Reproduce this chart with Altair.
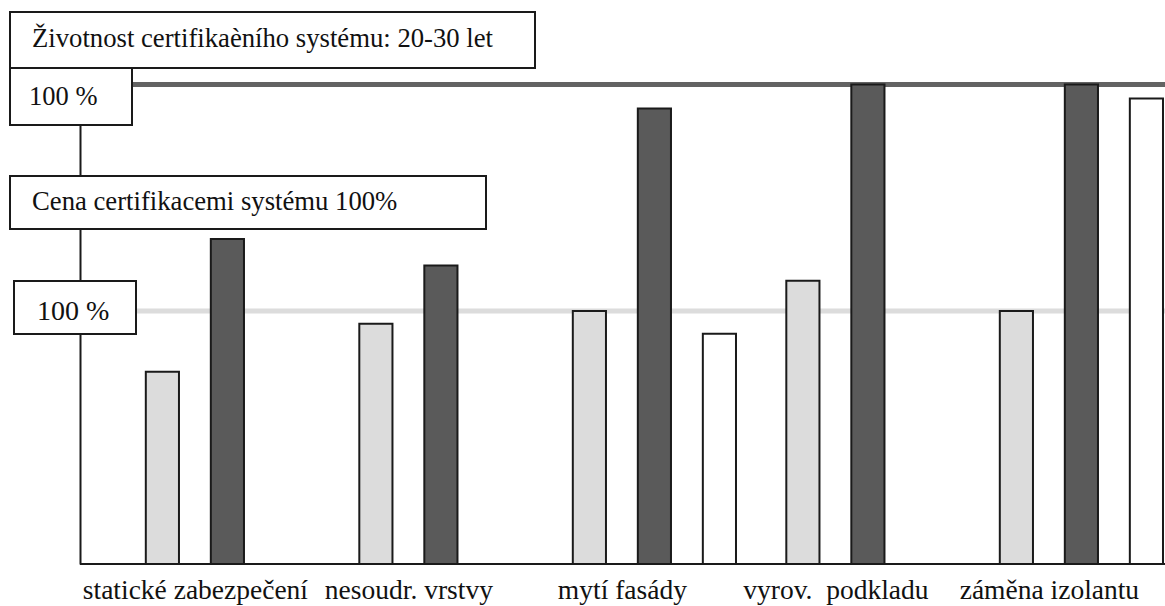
import altair as alt
import pandas as pd

# --- data -------------------------------------------------------------
categories = [
    "statické zabezpečení",
    "nesoudr. vrstvy",
    "mytí fasády",
    "vyrov.\u00a0 podkladu",
    "záměna izolantu",
]
series_names = ["svetla", "tmava", "bila"]
light_values = [76, 95, 100, 112, 100]
dark_values = [128.5, 118, 180, 189.5, 189.5]
white_values = [None, None, 91, None, 184]

cost_level = 100        # "Cena certifikacemi systému 100%"
lifetime_level = 189.5  # "Životnost certifikaèního systému: 20-30 let"

title_lifetime = "Životnost certifikaèního systému: 20-30 let"
title_cost = "Cena certifikacemi systému 100%"
level_label = "100 %"

# --- long table for the bars ------------------------------------------
rows = []
for name, values in zip(series_names, [light_values, dark_values, white_values]):
    for cat, v in zip(categories, values):
        if v is not None:
            rows.append({"kategorie": cat, "rada": name, "hodnota": v})
bars_df = pd.DataFrame(rows)

FONT = "Liberation Serif"
INK = "#1a1a1a"

y_scale = alt.Scale(domain=[0, 200], nice=False, zero=True)
x_scale = alt.Scale(domain=categories, range=[40.65, 1108.15],
                    paddingInner=0, paddingOuter=0)

bars = alt.Chart(bars_df).mark_bar(stroke=INK, strokeWidth=2).encode(
    x=alt.X("kategorie:N", sort=categories, scale=x_scale,
            axis=alt.Axis(title=None, ticks=False, domain=False, grid=False,
                          labelFont=FONT, labelFontSize=27.5, labelColor="#111",
                          labelAngle=0, labelPadding=34, labelLimit=400,
                          labelBaseline="alphabetic", labelOffset=-32,
                          labelOverlap=False, labelBound=False)),
    xOffset=alt.XOffset("rada:N", sort=series_names,
                        scale=alt.Scale(domain=series_names,
                                        paddingInner=0.49, paddingOuter=0.387)),
    y=alt.Y("hodnota:Q", scale=y_scale,
            axis=alt.Axis(title=None, labels=False, ticks=False, grid=False,
                          domainColor=INK, domainWidth=2)),
    color=alt.Color("rada:N", legend=None,
                    scale=alt.Scale(domain=series_names,
                                    range=["#dcdcdc", "#5a5a5a", "#ffffff"])),
)

levels_df = pd.DataFrame({"uroven": [cost_level, lifetime_level]})

cost_rule = alt.Chart(levels_df).transform_filter(
    alt.datum.uroven == cost_level
).mark_rule(color="#dcdcdc", strokeWidth=5).encode(
    y=alt.Y("uroven:Q", scale=y_scale)
)

lifetime_rule = alt.Chart(levels_df).transform_filter(
    alt.datum.uroven == lifetime_level
).mark_rule(color="#636363", strokeWidth=5).encode(
    y=alt.Y("uroven:Q", scale=y_scale)
)

baseline = alt.Chart(pd.DataFrame({"nula": [0]})).mark_rule(
    color=INK, strokeWidth=2
).encode(y=alt.Y("nula:Q", scale=y_scale))


def label_box(text, x0, x1, y0, y1, tx, ty, size):
    """White framed box with a single line of text (pixel layout)."""
    src = pd.DataFrame({"t": [text]})
    frame = alt.Chart(src).mark_rect(
        fill="white", stroke=INK, strokeWidth=2
    ).encode(
        x=alt.value(x0), x2=alt.value(x1), y=alt.value(y0), y2=alt.value(y1)
    )
    words = alt.Chart(src).mark_text(
        align="left", baseline="alphabetic", font=FONT, fontSize=size,
        color="#111"
    ).encode(x=alt.value(tx), y=alt.value(ty), text="t:N")
    return [frame, words]


boxes = []
boxes += label_box(title_lifetime, -70, 455, -46, 10, -48, -11, 26.7)
boxes += label_box(level_label, -70, 52, 10, 67, -51, 47, 26.5)
boxes += label_box(title_cost, -70, 406, 118, 171, -48, 152, 26.7)
boxes += label_box(level_label, -66, 56, 223, 276, -43, 262, 28)

chart = alt.layer(
    cost_rule, lifetime_rule, bars, baseline, *boxes
).properties(
    width=1085,
    height=506,
    autosize=alt.AutoSizeParams(type="none"),
    padding={"left": 80, "top": 58, "right": 0, "bottom": 42},
    background="white",
).configure_view(stroke=None)

chart.save("out.html", embed_options={"renderer": "svg", "actions": False})
